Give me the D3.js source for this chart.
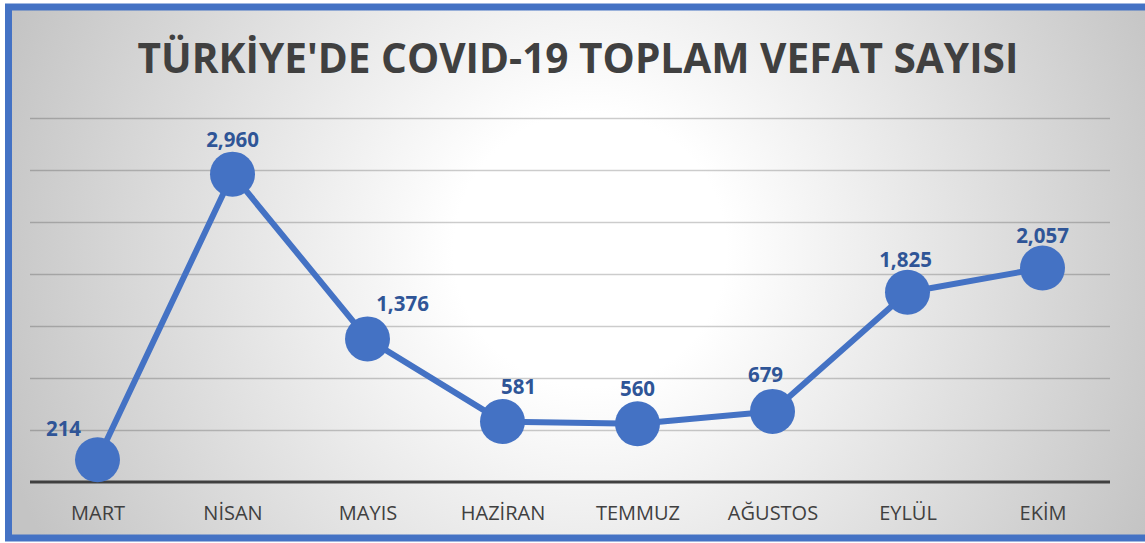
<!DOCTYPE html>
<html>
<head>
<meta charset="utf-8">
<script src="https://cdn.jsdelivr.net/npm/d3@7"></script>
<style>
  body { margin: 0; background: #fff; }
  svg { display: block; }
</style>
</head>
<body>
<div id="chart"></div>
<script>
// data
var months = ["MART", "NİSAN", "MAYIS", "HAZİRAN", "TEMMUZ", "AĞUSTOS", "EYLÜL", "EKİM"];
var deaths = [214, 2960, 1376, 581, 560, 679, 1825, 2057];
var gridTicks = [500, 1000, 1500, 2000, 2500, 3000, 3500];
var titleText = "TÜRKİYE'DE COVID-19 TOPLAM VEFAT SAYISI";

// hand placed label offsets (dx, dy from the point), like the original
var labelDx = [-34, 0, 35, 16, 0, -7, -2, 0];
var labelDy = [-24, -27, -28, -28, -28, -29, -25, -25];

var W = 1145, H = 543;
var margin = {left: 30, right: 35, top: 118, bottom: 61};

var svg = d3.select("#chart").append("svg")
  .attr("width", W)
  .attr("height", H);

var defs = svg.append("defs");
var grad = defs.append("radialGradient")
  .attr("id", "bg")
  .attr("gradientUnits", "userSpaceOnUse")
  .attr("cx", 590).attr("cy", 250).attr("r", 620);
grad.append("stop").attr("offset", "0%").attr("stop-color", "#ffffff");
grad.append("stop").attr("offset", "22%").attr("stop-color", "#ffffff");
grad.append("stop").attr("offset", "100%").attr("stop-color", "#c4c4c4");

// frame
svg.append("rect")
  .attr("x", 8.5).attr("y", 7)
  .attr("width", W + 20).attr("height", 531)
  .attr("fill", "url(#bg)")
  .attr("stroke", "#4472c4")
  .attr("stroke-width", 7);

var x = d3.scalePoint()
  .domain(months)
  .range([margin.left, W - margin.right])
  .padding(0.5);

var y = d3.scaleLinear()
  .domain([0, 3500])
  .range([H - margin.bottom, margin.top]);

// gridlines
var grid = svg.append("g")
  .attr("transform", "translate(" + margin.left + ",0)")
  .call(d3.axisLeft(y)
    .tickValues(gridTicks)
    .tickSize(-(W - margin.left - margin.right))
    .tickFormat(""));
grid.select(".domain").remove();
grid.selectAll(".tick line")
  .attr("stroke", "#000")
  .attr("stroke-opacity", 0.2)
  .attr("stroke-width", 1.5);

// baseline + category labels
var xAxis = svg.append("g")
  .attr("transform", "translate(0," + y(0) + ")")
  .call(d3.axisBottom(x).tickSize(0).tickPadding(24));
xAxis.select(".domain")
  .attr("d", "M" + margin.left + ",0H" + (W - margin.right))
  .attr("stroke", "#404040")
  .attr("stroke-width", 3);
xAxis.selectAll("text")
  .attr("font-family", "'Open Sans', sans-serif")
  .attr("font-size", 20)
  .attr("fill", "#404040");

// line
var line = d3.line()
  .x(function(d, i) { return x(months[i]); })
  .y(function(d) { return y(d); });

svg.append("path")
  .datum(deaths)
  .attr("d", line)
  .attr("fill", "none")
  .attr("stroke", "#4472c4")
  .attr("stroke-width", 6)
  .attr("stroke-linejoin", "round");

svg.selectAll("circle.pt")
  .data(deaths)
  .enter().append("circle")
    .attr("class", "pt")
    .attr("cx", function(d, i) { return x(months[i]); })
    .attr("cy", function(d) { return y(d); })
    .attr("r", 22.5)
    .attr("fill", "#4472c4");

// value labels
svg.selectAll("text.val")
  .data(deaths)
  .enter().append("text")
    .attr("class", "val")
    .attr("x", function(d, i) { return x(months[i]) + labelDx[i]; })
    .attr("y", function(d, i) { return y(d) + labelDy[i]; })
    .attr("text-anchor", "middle")
    .attr("font-family", "'Open Sans', sans-serif")
    .attr("font-weight", "bold")
    .attr("font-size", 20.5)
    .attr("fill", "#2f5597")
    .text(function(d) { return d3.format(",")(d); });

// title, sized to the width in the picture
var title = svg.append("text")
  .attr("x", 578)
  .attr("y", 73)
  .attr("text-anchor", "middle")
  .attr("font-family", "'Open Sans', sans-serif")
  .attr("font-weight", "bold")
  .attr("font-size", 42)
  .attr("fill", "#404040")
  .text(titleText);
var tw = title.node().getComputedTextLength();
title.attr("font-size", 42 * 881 / tw);
</script>
</body>
</html>
